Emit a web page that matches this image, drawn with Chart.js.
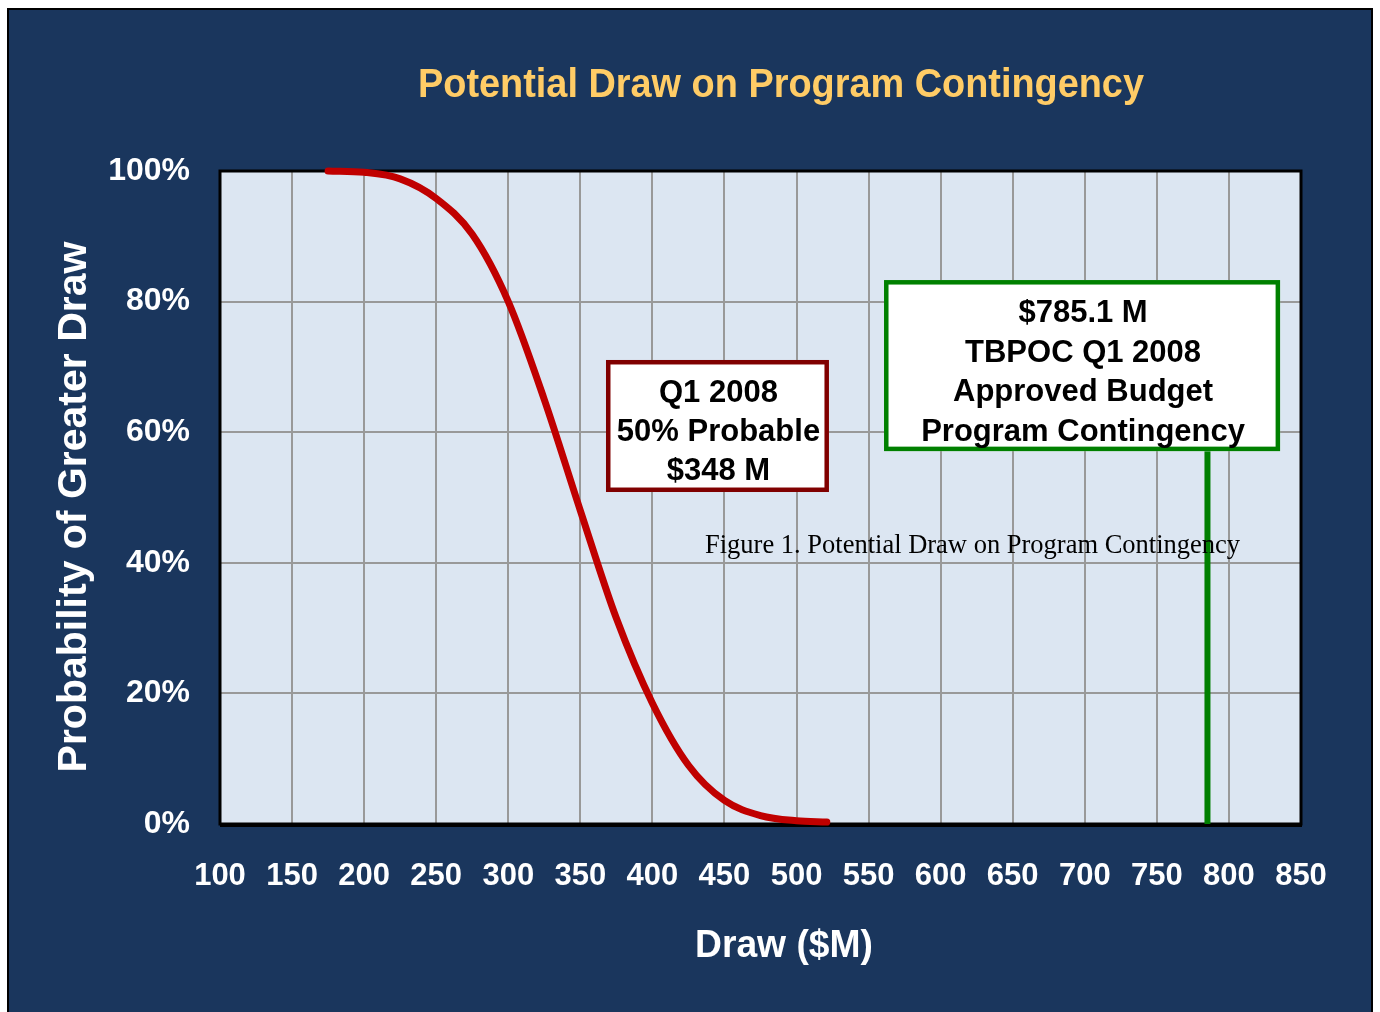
<!DOCTYPE html>
<html>
<head>
<meta charset="utf-8">
<script src="https://cdn.jsdelivr.net/npm/chart.js@4.4.1/dist/chart.umd.min.js"></script>
<style>
  html, body { margin: 0; padding: 0; background: #fff; }
  body { width: 1380px; height: 1012px; position: relative; overflow: hidden; }
  #frame {
    position: absolute; left: 7px; top: 8px; width: 1362px; height: 1020px;
    background: #1a365d; border: 2px solid #000;
  }
  #wrap { position: absolute; left: 0; top: 0; width: 1380px; height: 1012px; }
</style>
</head>
<body>
<div id="frame"></div>
<div id="wrap"><canvas id="drawChart" width="1380" height="1012"></canvas></div>
<script>
const drawValues = [175, 200, 225, 250, 275, 300, 325, 350, 375, 400, 425, 450, 475, 500, 521];
const probGreater = [100, 99.8, 98.8, 95.8, 90.3, 80, 65, 48, 31.5, 18.5, 9, 3.6, 1.3, 0.5, 0.3];

// approved budget marker
const budgetDraw = [785.1, 785.1];
const budgetProb = [0, 57.1];

const xTicks = { min: 100, max: 850, step: 50 };
const yTicks = { min: 0, max: 100, step: 20 };

const chartTitle = 'Potential Draw on Program Contingency';
const xTitle = 'Draw ($M)';
const yTitle = 'Probability of Greater Draw';
const caption = 'Figure 1. Potential Draw on Program Contingency';
const medianLines = ['Q1 2008', '50% Probable', '$348 M'];
const budgetLines = ['$785.1 M', 'TBPOC Q1 2008', 'Approved Budget', 'Program Contingency'];

const SANS = '"Liberation Sans", Arial, sans-serif';

// text squeezed to a given width (the original uses a slightly condensed face)
function fitText(ctx, s, cx, baseline, size, width, color) {
    ctx.save();
    ctx.font = 'bold ' + size + 'px ' + SANS;
    ctx.fillStyle = color;
    ctx.textAlign = 'center';
    ctx.textBaseline = 'alphabetic';
    const w = ctx.measureText(s).width;
    ctx.translate(cx, baseline);
    ctx.scale(width / w, 1);
    ctx.fillText(s, 0, 0);
    ctx.restore();
}

function textBox(ctx, chart, box, lines, color) {
    const xs = chart.scales.x, ys = chart.scales.y;
    const l = xs.getPixelForValue(box.x0), r = xs.getPixelForValue(box.x1);
    const t = ys.getPixelForValue(box.y1), b = ys.getPixelForValue(box.y0);
    const lw = 4.5;
    ctx.save();
    ctx.fillStyle = '#fff';
    ctx.fillRect(l, t, r - l, b - t);
    ctx.strokeStyle = color;
    ctx.lineWidth = lw;
    ctx.strokeRect(l + lw / 2, t + lw / 2, r - l - lw, b - t - lw);
    ctx.fillStyle = '#000';
    ctx.font = 'bold 31px ' + SANS;
    ctx.textAlign = 'center';
    ctx.textBaseline = 'alphabetic';
    lines.forEach((s, i) => ctx.fillText(s, (l + r) / 2 + 1, t + 42 + i * box.gap));
    ctx.restore();
}

const decor = {
    id: 'decor',
    beforeDraw(chart) {
        const { ctx, chartArea: a } = chart;
        ctx.save();
        ctx.fillStyle = '#dce6f2';
        ctx.fillRect(a.left, a.top, a.right - a.left, a.bottom - a.top);
        ctx.restore();
    },
    beforeDatasetsDraw(chart) {
        const { ctx, chartArea: a } = chart;
        ctx.save();
        ctx.strokeStyle = '#000';
        ctx.lineWidth = 3;
        ctx.strokeRect(a.left, a.top, a.right - a.left, a.bottom - a.top);
        ctx.fillStyle = '#000';
        ctx.fillRect(a.left, a.bottom - 1, a.right - a.left + 1, 4);
        ctx.restore();
    },
    afterDatasetsDraw(chart) {
        const ctx = chart.ctx;
        textBox(ctx, chart, { x0: 367.8, x1: 522.5, y0: 50.84, y1: 71.06, gap: 39 }, medianLines, '#800000');
        textBox(ctx, chart, { x0: 560.7, x1: 835.5, y0: 57.1, y1: 83.3, gap: 39.5 }, budgetLines, '#008000');

        ctx.save();
        ctx.fillStyle = '#000';
        ctx.font = '26.5px "Liberation Serif", "Times New Roman", serif';
        ctx.textAlign = 'left';
        ctx.textBaseline = 'alphabetic';
        ctx.fillText(caption, 705, 553);
        ctx.restore();
    },
    afterDraw(chart) {
        const ctx = chart.ctx;
        fitText(ctx, chartTitle, 781, 97, 40.5, 726, '#ffcc66');
        fitText(ctx, xTitle, 784, 957, 39.5, 178, '#fff');
        ctx.save();
        ctx.translate(86, 507);
        ctx.rotate(-Math.PI / 2);
        ctx.fillStyle = '#fff';
        ctx.textAlign = 'center';
        ctx.textBaseline = 'alphabetic';
        ctx.font = 'bold 41px ' + SANS;
        ctx.fillText(yTitle, 0, 0);
        ctx.restore();
    }
};

const ctx = document.getElementById('drawChart').getContext('2d');
new Chart(ctx, {
    type: 'line',
    data: {
        datasets: [{
            data: drawValues.map((x, i) => ({ x, y: probGreater[i] })),
            borderColor: '#c00000',
            borderWidth: 7,
            borderCapStyle: 'round',
            cubicInterpolationMode: 'monotone',
            pointRadius: 0,
            fill: false,
            clip: false
        }, {
            data: budgetDraw.map((x, i) => ({ x, y: budgetProb[i] })),
            borderColor: '#008000',
            borderWidth: 6,
            pointRadius: 0,
            fill: false,
            clip: false
        }]
    },
    options: {
        responsive: false,
        animation: false,
        layout: { padding: { top: 171, right: 79, left: 0, bottom: 0 } },
        plugins: { legend: { display: false }, title: { display: false }, tooltip: { enabled: false } },
        scales: {
            x: {
                type: 'linear',
                min: xTicks.min, max: xTicks.max,
                afterFit: s => { s.height = 188; },
                ticks: {
                    stepSize: xTicks.step,
                    color: '#fff',
                    padding: 34,
                    maxRotation: 0,
                    font: { family: SANS, size: 31, weight: 'bold' }
                },
                grid: { color: '#999', lineWidth: 2, drawTicks: false },
                border: { display: false }
            },
            y: {
                min: yTicks.min, max: yTicks.max,
                afterFit: s => { s.width = 220; },
                ticks: {
                    stepSize: yTicks.step,
                    color: '#fff',
                    padding: 30,
                    callback: v => v + '%',
                    font: { family: SANS, size: 32, weight: 'bold' }
                },
                grid: { color: '#999', lineWidth: 2, drawTicks: false },
                border: { display: false }
            }
        }
    },
    plugins: [decor]
});
</script>
</body>
</html>
